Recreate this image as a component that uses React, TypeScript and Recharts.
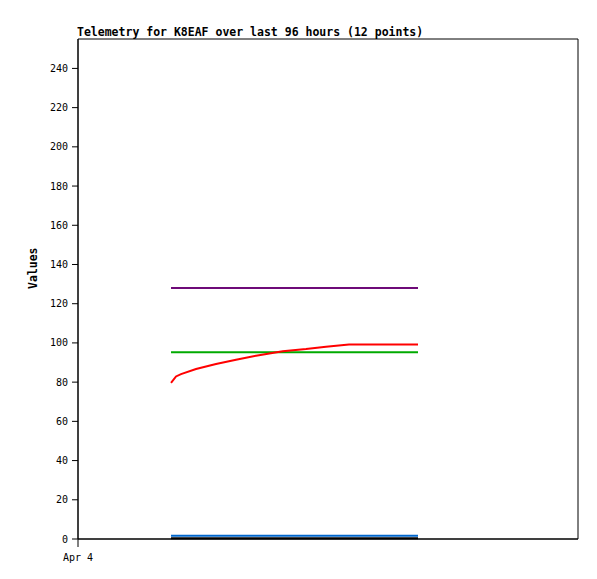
import { LineChart, Line, XAxis, YAxis, ReferenceArea, Label } from "recharts";

// hours since Apr 4 00:00
const hours = [17.86, 18.82, 19.78, 22.66, 26.5, 30.34, 34.18, 39.3, 43.78, 47.62, 52.03, 65.28];
const red = [79.6, 82.9, 84.1, 86.7, 89.2, 91.4, 93.5, 95.8, 96.9, 98.1, 99.2, 99.2];
const green = [95.3, 95.3, 95.3, 95.3, 95.3, 95.3, 95.3, 95.3, 95.3, 95.3, 95.3, 95.3];
const purple = [128, 128, 128, 128, 128, 128, 128, 128, 128, 128, 128, 128];
const blue = [1.6, 1.6, 1.6, 1.6, 1.6, 1.6, 1.6, 1.6, 1.6, 1.6, 1.6, 1.6];
const black = [0.4, 0.4, 0.4, 0.4, 0.4, 0.4, 0.4, 0.4, 0.4, 0.4, 0.4, 0.4];
const yTicks = [0, 20, 40, 60, 80, 100, 120, 140, 160, 180, 200, 220, 240];
const xTicks = [0];
const xTickLabels = ["Apr 4"];

const data = hours.map((h, i) => ({
  h,
  red: red[i],
  green: green[i],
  purple: purple[i],
  blue: blue[i],
  black: black[i],
}));

const font = "'DejaVu Sans Mono', monospace";

export default function App() {
  return (
    <div style={{ position: "absolute", left: 0, top: 0, width: 597, height: 579, background: "#fff" }}>
      <div
        style={{
          position: "absolute",
          left: 77,
          top: 25,
          fontFamily: font,
          fontWeight: "bold",
          fontSize: 11.5,
          color: "#000",
          whiteSpace: "nowrap",
        }}
      >
        Telemetry for K8EAF over last 96 hours (12 points)
      </div>
      <div style={{ position: "absolute", left: 0.5, top: 0.5 }}>
        <LineChart width={597} height={579} data={data} margin={{ top: 38, right: 20, bottom: 0, left: 0 }}>
          <XAxis
            dataKey="h"
            type="number"
            domain={[0, 96]}
            ticks={xTicks}
            tickFormatter={(v: number) => xTickLabels[xTicks.indexOf(v)] ?? ""}
            height={41}
            stroke="#000"
            tickSize={8}
            tickMargin={7}
            tick={{ fill: "#000", fontFamily: font, fontSize: 10 }}
          />
          <YAxis
            type="number"
            domain={[0, 255]}
            ticks={yTicks}
            width={77}
            stroke="#000"
            tickSize={6}
            tickMargin={4}
            tick={{ fill: "#000", fontFamily: font, fontSize: 10 }}
          >
            <Label
              value="Values"
              angle={-90}
              position="insideLeft"
              offset={32}
              style={{ fontFamily: font, fontWeight: "bold", fontSize: 11.5, fill: "#000" }}
            />
          </YAxis>
          <ReferenceArea x1={0} x2={96} y1={0} y2={255} fill="none" stroke="#000" strokeWidth={1} ifOverflow="visible" />
          <Line type="linear" dataKey="black" stroke="#000000" strokeWidth={2} dot={false} isAnimationActive={false} />
          <Line type="linear" dataKey="blue" stroke="#0066cc" strokeWidth={2} dot={false} isAnimationActive={false} />
          <Line type="linear" dataKey="purple" stroke="#6e0a78" strokeWidth={2} dot={false} isAnimationActive={false} />
          <Line type="linear" dataKey="green" stroke="#00aa00" strokeWidth={2} dot={false} isAnimationActive={false} />
          <Line type="linear" dataKey="red" stroke="#ff0000" strokeWidth={2} dot={false} isAnimationActive={false} />
        </LineChart>
      </div>
    </div>
  );
}
